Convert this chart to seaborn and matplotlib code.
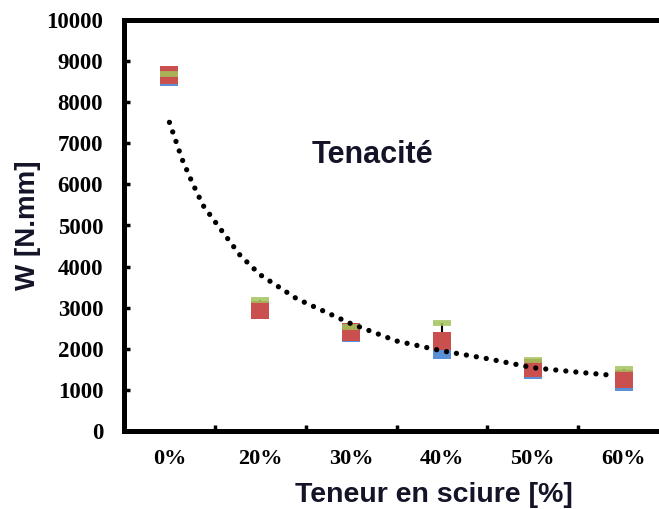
import matplotlib
matplotlib.use("Agg")
import matplotlib.pyplot as plt
import seaborn as sns
import numpy as np

# sawdust content categories
categories = ['0%', '20%', '30%', '40%', '50%', '60%']
positions = [1, 2, 3, 4, 5, 6]

# three specimen series, W [N.mm]
w_blue = [8620, 2950, 2380, 1980, 1490, 1200]
w_red = [8650, 2950, 2400, 2200, 1540, 1270]
w_green = [8680, 3190, 2520, 2630, 1730, 1500]

# dotted trend curve (x in category index)
trend_x = [1.0, 1.14, 1.25, 1.37, 1.54, 1.78, 2.0, 2.4, 3.0, 3.5, 4.0, 4.5, 5.0, 5.5, 5.9]
trend_y = [7510, 6610, 6050, 5490, 4980, 4270, 3800, 3220, 2610, 2190, 1950, 1760, 1540, 1430, 1350]

sns.set_theme(style="white")
plt.rcParams['font.family'] = ['Liberation Serif', 'DejaVu Serif']

BLUE = '#5b8fd6'
RED = '#c9504f'
GREEN = '#a3c25a'
TXT = '#141428'
SANS = ['Liberation Sans', 'DejaVu Sans']

fig = plt.figure(figsize=(6.59, 5.09), dpi=100)
ax = fig.add_axes([124 / 659, 78 / 509, 545 / 659, 411 / 509])

err_up = np.array(w_green) - np.array(w_red)
ax.errorbar(positions, w_red, yerr=[np.zeros(6), err_up], fmt='none',
            ecolor='black', elinewidth=1.5, capsize=0, zorder=2)
sns.scatterplot(x=positions, y=w_blue, marker='s', s=170, color=BLUE,
                linewidth=0, ax=ax, zorder=3)
sns.scatterplot(x=positions, y=w_red, marker='s', s=170, color=RED,
                linewidth=0, ax=ax, zorder=4)
sns.scatterplot(x=positions, y=w_green, marker='_', s=165, color=GREEN,
                linewidth=4.2, alpha=0.85, ax=ax, zorder=5)
sns.lineplot(x=trend_x, y=trend_y, color='black', linewidth=3.8,
             linestyle=(0, (0.01, 1.9)), dash_capstyle='round',
             sort=False, ax=ax, zorder=6)

ax.set_xlim(0.5, 6.5)
ax.set_ylim(0, 10000)
ax.set_yticks(range(0, 10001, 1000))
ax.set_xticks(positions)
ax.set_xticklabels(categories)
ax.set_xticks([1.5, 2.5, 3.5, 4.5, 5.5], minor=True)

ax.tick_params(axis='x', which='major', length=0, pad=13)
ax.tick_params(axis='x', which='minor', direction='in', length=4, width=2.5,
               color='black', bottom=True)
ax.tick_params(axis='y', direction='in', length=4, width=2.5, color='black',
               left=True, pad=15)
for lab in ax.get_xticklabels():
    lab.set_fontweight('bold')
    lab.set_fontsize(16)
    lab.set_color('black')
for lab in ax.get_yticklabels():
    lab.set_fontweight('bold')
    lab.set_fontsize(16.5)
    lab.set_color('black')

for side in ['left', 'bottom', 'top']:
    ax.spines[side].set_linewidth(3.6)
    ax.spines[side].set_color('black')
ax.spines['right'].set_visible(False)

ax.set_xlabel('Teneur en sciure [%]', fontsize=20.5, fontweight='bold',
              family=SANS, color=TXT)
ax.xaxis.set_label_coords(0.569, -0.173)
ax.xaxis.label.set_va('baseline')
ax.set_ylabel('W [N.mm]', fontsize=20, fontweight='bold',
              family=SANS, color=TXT)
ax.yaxis.set_label_coords(-0.152, 0.5)

ax.text(3.23, 6510, 'Tenacité', fontsize=22, fontweight='bold',
        family=SANS, color=TXT, ha='center', va='baseline')

fig.savefig('out.png', dpi=100)
